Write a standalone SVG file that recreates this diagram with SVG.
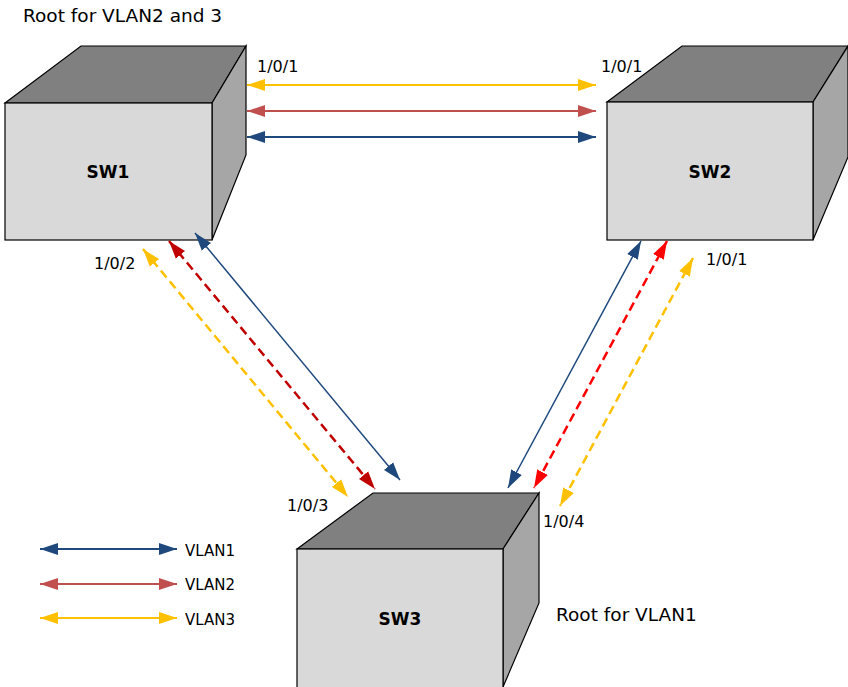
<svg xmlns="http://www.w3.org/2000/svg" width="848" height="687" viewBox="0 0 848 687">
<style>
.front{fill:#D9D9D9;stroke:#000;stroke-width:1.2}
.top{fill:#808080;stroke:#000;stroke-width:1.2}
.side{fill:#A6A6A6;stroke:#000;stroke-width:1.2}
.lbl{font-family:"DejaVu Sans",sans-serif;font-size:16px;fill:#000}
.big{font-family:"DejaVu Sans",sans-serif;font-size:18.5px;fill:#000}
.leg{font-family:"DejaVu Sans",sans-serif;font-size:15px;fill:#000}
.sw{font-family:"DejaVu Sans",sans-serif;font-size:17px;font-weight:bold;fill:#000;text-anchor:middle}
.c{fill:none}
.dash{stroke-width:2.5;stroke-dasharray:9 5}
</style>
<defs>
<marker id="mB" markerUnits="userSpaceOnUse" markerWidth="19" markerHeight="13" refX="18" refY="6.5" orient="auto-start-reverse"><path d="M0,0.5 L18,6.5 L0,12.5 z" fill="#1F497D"/></marker>
<marker id="mR" markerUnits="userSpaceOnUse" markerWidth="19" markerHeight="13" refX="18" refY="6.5" orient="auto-start-reverse"><path d="M0,0.5 L18,6.5 L0,12.5 z" fill="#C0504D"/></marker>
<marker id="mY" markerUnits="userSpaceOnUse" markerWidth="19" markerHeight="13" refX="18" refY="6.5" orient="auto-start-reverse"><path d="M0,0.5 L18,6.5 L0,12.5 z" fill="#FFC000"/></marker>
<marker id="mD" markerUnits="userSpaceOnUse" markerWidth="19" markerHeight="13" refX="18" refY="6.5" orient="auto-start-reverse"><path d="M0,0.5 L18,6.5 L0,12.5 z" fill="#C00000"/></marker>
<marker id="mF" markerUnits="userSpaceOnUse" markerWidth="19" markerHeight="13" refX="18" refY="6.5" orient="auto-start-reverse"><path d="M0,0.5 L18,6.5 L0,12.5 z" fill="#FF0000"/></marker>
</defs>
<rect width="848" height="687" fill="#fff"/>

<g id="sw1">
<polygon class="top" points="5,103 81,46 246,46 212,103"/>
<polygon class="side" points="212,103 246,46 246,155 212,240"/>
<rect class="front" x="5" y="103" width="207" height="137"/>
<text class="sw" x="108" y="178">SW1</text>
</g>
<g id="sw2">
<polygon class="top" points="607,102 682,46 848,46 813,102"/>
<polygon class="side" points="813,102 848,46 848,157 813,240"/>
<rect class="front" x="607" y="102" width="206" height="138"/>
<text class="sw" x="710" y="178">SW2</text>
</g>
<g id="sw3">
<polygon class="top" points="297,549 373,493 539,493 503,549"/>
<polygon class="side" points="503,549 539,493 539,603 503,687"/>
<rect class="front" x="297" y="549" width="206" height="140"/>
<text class="sw" x="400" y="625">SW3</text>
</g>

<g id="connectors" class="c">
<line x1="247" y1="85" x2="596" y2="85" stroke="#FFC000" stroke-width="2" marker-start="url(#mY)" marker-end="url(#mY)"/>
<line x1="247" y1="111" x2="596" y2="111" stroke="#C0504D" stroke-width="2" marker-start="url(#mR)" marker-end="url(#mR)"/>
<line x1="247" y1="137" x2="596" y2="137" stroke="#1F497D" stroke-width="2" marker-start="url(#mB)" marker-end="url(#mB)"/>

<line x1="195" y1="233" x2="400" y2="480" stroke="#1F497D" stroke-width="1.5" marker-start="url(#mB)" marker-end="url(#mB)"/>
<line class="dash" x1="169" y1="241" x2="375" y2="489" stroke="#C00000" marker-start="url(#mD)" marker-end="url(#mD)"/>
<line class="dash" x1="143" y1="249" x2="348" y2="497" stroke="#FFC000" marker-start="url(#mY)" marker-end="url(#mY)"/>

<line x1="641" y1="241" x2="508" y2="488" stroke="#1F497D" stroke-width="1.5" marker-start="url(#mB)" marker-end="url(#mB)"/>
<line class="dash" x1="667" y1="241" x2="534" y2="488" stroke="#FF0000" marker-start="url(#mF)" marker-end="url(#mF)"/>
<line class="dash" x1="693" y1="258" x2="560" y2="506" stroke="#FFC000" marker-start="url(#mY)" marker-end="url(#mY)"/>
</g>

<g id="legend">
<line x1="40" y1="549" x2="177" y2="549" stroke="#1F497D" stroke-width="2" marker-start="url(#mB)" marker-end="url(#mB)"/>
<line x1="40" y1="584" x2="177" y2="584" stroke="#C0504D" stroke-width="2" marker-start="url(#mR)" marker-end="url(#mR)"/>
<line x1="40" y1="618" x2="177" y2="618" stroke="#FFC000" stroke-width="2" marker-start="url(#mY)" marker-end="url(#mY)"/>
<text class="leg" x="185" y="556">VLAN1</text>
<text class="leg" x="185" y="590">VLAN2</text>
<text class="leg" x="185" y="625">VLAN3</text>
</g>

<g id="labels">
<text class="big" x="23" y="22">Root for VLAN2 and 3</text>
<text class="big" x="556" y="621">Root for VLAN1</text>
<text class="lbl" x="257" y="72">1/0/1</text>
<text class="lbl" x="601" y="72">1/0/1</text>
<text class="lbl" x="706" y="265">1/0/1</text>
<text class="lbl" x="94" y="269">1/0/2</text>
<text class="lbl" x="287" y="511">1/0/3</text>
<text class="lbl" x="543" y="527">1/0/4</text>
</g>
</svg>
